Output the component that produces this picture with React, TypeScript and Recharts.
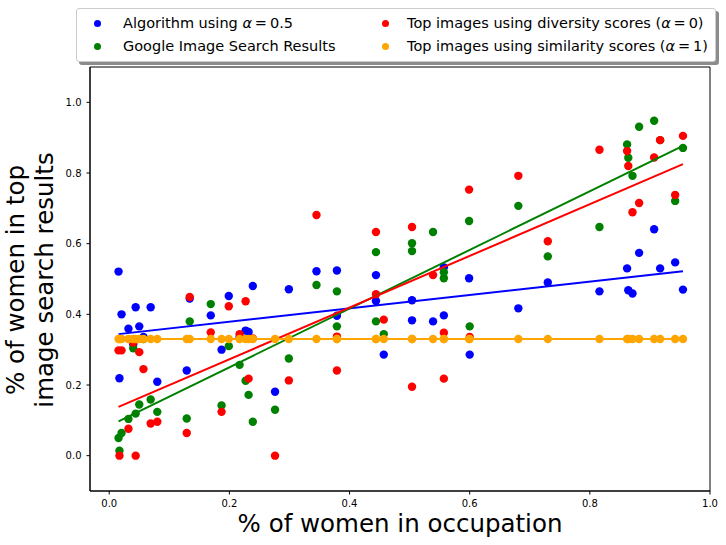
import React from 'react';
import { ScatterChart, Scatter, XAxis, YAxis, ReferenceArea } from 'recharts';

// Share of women in each occupation (x)
const occupationShare = [
  0.0155, 0.017, 0.0205, 0.032, 0.040, 0.044, 0.050, 0.057, 0.069, 0.080,
  0.129, 0.134, 0.169, 0.187, 0.199, 0.217, 0.227, 0.232, 0.239, 0.276,
  0.299, 0.345, 0.379, 0.379, 0.444, 0.444, 0.457, 0.504, 0.504, 0.539,
  0.557, 0.557, 0.599, 0.600, 0.681, 0.730, 0.816, 0.862, 0.864, 0.871,
  0.882, 0.907, 0.917, 0.942, 0.955,
];

// Algorithm using alpha = 0.5 (blue)
const algorithmShare = [
  0.521, 0.219, 0.40, 0.359, 0.315, 0.42, 0.366, 0.336, 0.42, 0.209,
  0.241, 0.445, 0.397, 0.30, 0.452, 0.335, 0.354, 0.35, 0.48, 0.181,
  0.471, 0.522, 0.524, 0.396, 0.511, 0.438, 0.286, 0.44, 0.383, 0.38,
  0.397, 0.533, 0.502, 0.286, 0.417, 0.49, 0.465, 0.530, 0.468, 0.459,
  0.574, 0.641, 0.530, 0.547, 0.47,
];

// Google Image Search results (green)
const googleShare = [
  0.050, 0.014, 0.064, 0.104, 0.304, 0.119, 0.145, 0.33, 0.159, 0.124,
  0.105, 0.38, 0.429, 0.142, 0.31, 0.257, 0.212, 0.172, 0.096, 0.130,
  0.275, 0.483, 0.465, 0.366, 0.576, 0.38, 0.344, 0.601, 0.579, 0.633,
  0.519, 0.502, 0.664, 0.366, 0.707, 0.564, 0.647, 0.881, 0.843, 0.792,
  0.931, 0.948, 0.893, 0.721, 0.871,
];

// Top images using diversity scores, alpha = 0 (red)
const diversityShare = [
  0.298, 0.0, 0.298, 0.076, 0.32, 0.0, 0.293, 0.245, 0.091, 0.096,
  0.064, 0.449, 0.349, 0.124, 0.423, 0.344, 0.437, 0.218, 0.332, 0.0,
  0.213, 0.681, 0.337, 0.241, 0.633, 0.457, 0.385, 0.647, 0.195, 0.511,
  0.348, 0.218, 0.753, 0.336, 0.792, 0.607, 0.866, 0.862, 0.820, 0.689,
  0.715, 0.844, 0.893, 0.738, 0.905,
];

// Top images using similarity scores, alpha = 1 (orange)
const similarityShare = [
  0.33, 0.33, 0.33, 0.33, 0.33, 0.33, 0.33, 0.33, 0.33, 0.33,
  0.33, 0.33, 0.33, 0.33, 0.33, 0.33, 0.33, 0.33, 0.33, 0.33,
  0.33, 0.33, 0.33, 0.33, 0.33, 0.33, 0.33, 0.33, 0.33, 0.33,
  0.33, 0.33, 0.33, 0.33, 0.33, 0.33, 0.33, 0.33, 0.33, 0.33,
  0.33, 0.33, 0.33, 0.33, 0.33,
];

// Fitted trend lines (endpoints)
const trendX = [0.0155, 0.955];
const algorithmTrend = [0.344, 0.522];
const googleTrend = [0.097, 0.877];
const diversityTrend = [0.138, 0.825];

const xTicks = [0.0, 0.2, 0.4, 0.6, 0.8, 1.0];
const yTicks = [0.0, 0.2, 0.4, 0.6, 0.8, 1.0];

const BLUE = '#0000ff';
const GREEN = '#008000';
const RED = '#ff0000';
const ORANGE = '#ffa500';
const FONT = '"DejaVu Sans", sans-serif';

const toPoints = (xs: number[], ys: number[]) => xs.map((x, i) => ({ x, y: ys[i] }));

const makeDot = (color: string) => (props: any) => {
  if (props.cx == null || props.cy == null) return <g />;
  return <circle cx={props.cx} cy={props.cy} r={4.2} fill={color} />;
};
const noDot = () => <g />;

const EQ = '\u2009=\u2009';
const legendItems = [
  { color: BLUE, left: 20, top: 14, textLeft: 46, label: <>Algorithm using <i>α</i>{EQ}0.5</> },
  { color: GREEN, left: 20, top: 37, textLeft: 46, label: <>Google Image Search Results</> },
  { color: RED, left: 308, top: 14, textLeft: 330, label: <>Top images using diversity scores (<i>α</i>{EQ}0)</> },
  { color: ORANGE, left: 308, top: 37, textLeft: 330, label: <>Top images using similarity scores (<i>α</i>{EQ}1)</> },
];

export default function App() {
  return (
    <div style={{ position: 'absolute', left: 0, top: 0, width: 726, height: 545, background: '#fff', fontFamily: FONT }}>
      <ScatterChart
        width={726}
        height={545}
        margin={{ top: 67, right: 16, bottom: 24, left: 40 }}
      >
        <XAxis
          type="number"
          dataKey="x"
          domain={[-0.032, 1.0]}
          ticks={xTicks}
          allowDataOverflow
          tickFormatter={(v: number) => v.toFixed(1)}
          height={30}
          stroke="#000"
          tickSize={3.5}
          tickMargin={5}
          tick={{ fill: '#000', fontSize: 10, fontFamily: FONT }}
        />
        <YAxis
          type="number"
          dataKey="y"
          domain={[-0.1, 1.1]}
          ticks={yTicks}
          allowDataOverflow
          tickFormatter={(v: number) => v.toFixed(1)}
          width={50}
          stroke="#000"
          tickSize={3.5}
          tickMargin={5}
          tick={{ fill: '#000', fontSize: 10, fontFamily: FONT }}
        />
        <ReferenceArea x1={-0.032} x2={1.0} y1={-0.1} y2={1.1} fill="none" stroke="#000" strokeWidth={1} ifOverflow="visible" />
        <Scatter data={toPoints(occupationShare, algorithmShare)} shape={makeDot(BLUE)} isAnimationActive={false} />
        <Scatter data={toPoints(occupationShare, googleShare)} shape={makeDot(GREEN)} isAnimationActive={false} />
        <Scatter data={toPoints(occupationShare, diversityShare)} shape={makeDot(RED)} isAnimationActive={false} />
        <Scatter data={toPoints(trendX, algorithmTrend)} shape={noDot} line={{ stroke: BLUE, strokeWidth: 2 }} isAnimationActive={false} />
        <Scatter data={toPoints(trendX, googleTrend)} shape={noDot} line={{ stroke: GREEN, strokeWidth: 2 }} isAnimationActive={false} />
        <Scatter data={toPoints(trendX, diversityTrend)} shape={noDot} line={{ stroke: RED, strokeWidth: 2 }} isAnimationActive={false} />
        <Scatter data={toPoints(occupationShare, similarityShare)} shape={makeDot(ORANGE)} line={{ stroke: ORANGE, strokeWidth: 2 }} isAnimationActive={false} />
      </ScatterChart>

      <svg width={726} height={545} style={{ position: 'absolute', left: 0, top: 0, pointerEvents: 'none' }}>
        <text x={400} y={532} textAnchor="middle" fontSize={24.5} fontFamily={FONT} fill="#000">% of women in occupation</text>
        <text x={0} y={0} transform="translate(24,280) rotate(-90)" textAnchor="middle" fontSize={24.5} fontFamily={FONT} fill="#000">% of women in top</text>
        <text x={0} y={0} transform="translate(53,280) rotate(-90)" textAnchor="middle" fontSize={24.5} fontFamily={FONT} fill="#000">image search results</text>
      </svg>

      <div style={{ position: 'absolute', left: 76, top: 8, width: 640, height: 54, boxSizing: 'border-box', border: '1px solid #cccccc', borderRadius: 3, background: '#fff', boxShadow: '3px 3px 0 #8c8c8c', fontFamily: FONT, fontSize: 14.5, color: '#000' }}>
        {legendItems.map((it, i) => (
          <React.Fragment key={i}>
            <div style={{ position: 'absolute', left: it.left - 3.5, top: it.top - 3.5, width: 7, height: 7, borderRadius: '50%', background: it.color }} />
            <div style={{ position: 'absolute', left: it.textLeft, top: it.top - 10, lineHeight: '20px', whiteSpace: 'nowrap' }}>{it.label}</div>
          </React.Fragment>
        ))}
      </div>
    </div>
  );
}
